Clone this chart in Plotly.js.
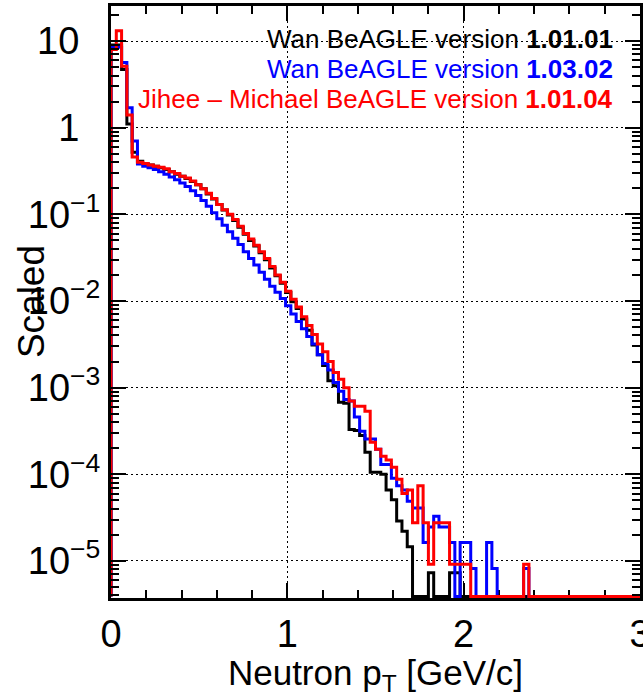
<!DOCTYPE html>
<html>
<head>
<meta charset="utf-8">
<script src="https://cdn.plot.ly/plotly-3.0.1.min.js"></script>
<style>
  html, body { margin: 0; padding: 0; background: #fff; }
  #chart { width: 643px; height: 697px; }
</style>
</head>
<body>
<div id="chart"></div>
<script>
// ---------------- data ----------------
// Histogram binning: 100 bins of width 0.03 GeV/c from 0 to 3
const X_MIN = 0;
const BIN_WIDTH = 0.03;
const N_BINS = 100;

// Wan BeAGLE version 1.01.01 (black)
const wan10101 = [
  9.0, 9.0, 4.7, 1.1, 0.52, 0.41, 0.385, 0.37, 0.36, 0.345,
  0.33, 0.31, 0.29, 0.275, 0.26, 0.24, 0.22, 0.197, 0.172, 0.15,
  0.13, 0.112, 0.098, 0.085, 0.071, 0.059, 0.05, 0.043, 0.036, 0.03,
  0.024, 0.0195, 0.016, 0.0125, 0.0098, 0.0082, 0.0062, 0.0046, 0.0031, 0.0024,
  0.0018, 0.0012, 0.00105, 6.8e-4, 6.6e-4, 3.3e-4, 3.2e-4, 2.8e-4, 1.8e-4, 1.06e-4,
  1.06e-4, 1.0e-4, 6.6e-5, 5.1e-5, 2.9e-5, 2.2e-5, 1.46e-5, 0, 0, 0,
  7.3e-6, 0, 0, 0, 7.3e-6, 7.3e-6, 0, 0, 0, 0,
  0, 0, 0, 0, 0, 0, 0, 0, 0, 0,
  0, 0, 0, 0, 0, 0, 0, 0, 0, 0,
  0, 0, 0, 0, 0, 0, 0, 0, 0, 0
];

// Wan BeAGLE version 1.03.02 (blue)
const wan10302 = [
  8.5, 8.5, 5.65, 1.7, 0.70, 0.38, 0.36, 0.345, 0.33, 0.31,
  0.29, 0.27, 0.25, 0.23, 0.21, 0.187, 0.165, 0.144, 0.124, 0.104,
  0.089, 0.075, 0.063, 0.053, 0.045, 0.037, 0.031, 0.026, 0.0215, 0.0178,
  0.0148, 0.0126, 0.0107, 0.0088, 0.0071, 0.0058, 0.0048, 0.0039, 0.0032, 0.0024,
  0.0019, 0.0016, 0.00115, 9.1e-4, 7.3e-4, 7.0e-4, 4.6e-4, 3.15e-4, 2.55e-4, 2.55e-4,
  1.95e-4, 1.3e-4, 1.3e-4, 9.0e-5, 7.4e-5, 6.6e-5, 4.9e-5, 4.1e-5, 4.1e-5, 1.64e-5,
  2.46e-5, 3.28e-5, 2.46e-5, 2.46e-5, 1.64e-5, 0, 1.64e-5, 1.64e-5, 8.2e-6, 0,
  0, 1.64e-5, 8.2e-6, 0, 0, 0, 0, 0, 8.2e-6, 0,
  0, 0, 0, 0, 0, 0, 0, 0, 0, 0,
  0, 0, 0, 0, 0, 0, 0, 0, 0, 0
];

// Jihee – Michael BeAGLE version 1.01.04 (red)
const jm10104 = [
  8.0, 13.1, 5.1, 1.4, 0.46, 0.40, 0.385, 0.37, 0.36, 0.35,
  0.335, 0.31, 0.295, 0.275, 0.262, 0.243, 0.22, 0.198, 0.175, 0.152,
  0.13, 0.113, 0.1, 0.087, 0.073, 0.06, 0.052, 0.044, 0.037, 0.031,
  0.025, 0.02, 0.0165, 0.013, 0.0105, 0.0085, 0.0066, 0.0052, 0.0041, 0.0032,
  0.0026, 0.002, 0.0015, 0.00125, 0.001, 7.0e-4, 6.1e-4, 6.1e-4, 5.35e-4, 2.35e-4,
  1.95e-4, 1.62e-4, 1.46e-4, 1.21e-4, 8.8e-5, 6.0e-5, 6.6e-5, 2.76e-5, 7.4e-5, 2.76e-5,
  9.2e-6, 2.76e-5, 2.76e-5, 2.76e-5, 9.2e-6, 9.2e-6, 9.2e-6, 9.2e-6, 0, 0,
  0, 0, 0, 0, 0, 0, 0, 0, 9.2e-6, 0,
  0, 0, 0, 0, 0, 0, 0, 0, 0, 0,
  0, 0, 0, 0, 0, 0, 0, 0, 0, 0
];

const seriesNames = [
  'Wan BeAGLE version <b>1.01.01</b>',
  'Wan BeAGLE version <b>1.03.02</b>',
  'Jihee \u2013 Michael BeAGLE version <b>1.01.04</b>'
];
const seriesColors = ['#000000', '#0000ff', '#ff0000'];

// axis ticks and labels
const xTickVals = [0, 1, 2, 3];
const yTickVals = [1e-5, 1e-4, 1e-3, 1e-2, 1e-1, 1, 10];
const yTickText = [
  '10<sup>\u22125</sup>', '10<sup>\u22124</sup>', '10<sup>\u22123</sup>',
  '10<sup>\u22122</sup>', '10<sup>\u22121</sup>',
  '1\u00a0\u00a0', '10\u00a0\u00a0'
];
const xTitle = 'Neutron p<sub>T</sub> [GeV/c]';
const yTitle = 'Scaled';
const Y_LOG_RANGE = [-5.427, 1.404];
// empty bins are drawn on the lower frame, as ROOT does
const EMPTY_BIN_LEVEL = Math.pow(10, Y_LOG_RANGE[0] + 0.017);

// ---------------- build ----------------
const edges = [];
for (let i = 0; i <= N_BINS; i++) edges.push(+(X_MIN + i * BIN_WIDTH).toFixed(4));

function stepTrace(vals, color, name) {
  const xs = [edges[0]], ys = [EMPTY_BIN_LEVEL];
  for (let i = 0; i < vals.length; i++) {
    xs.push(edges[i]);
    ys.push(vals[i] > 0 ? vals[i] : EMPTY_BIN_LEVEL);
  }
  xs.push(edges[vals.length]);
  ys.push(EMPTY_BIN_LEVEL);
  return {
    x: xs, y: ys, type: 'scatter', mode: 'lines', name: name,
    line: { shape: 'hv', color: color, width: 3 },
    hoverinfo: 'skip', showlegend: false
  };
}

const data = [
  stepTrace(wan10101, seriesColors[0], seriesNames[0]),
  stepTrace(wan10302, seriesColors[1], seriesNames[1]),
  stepTrace(jm10104, seriesColors[2], seriesNames[2])
];

const FONT = 'Liberation Sans, Arial, Helvetica, sans-serif';

const annotations = seriesNames.map((t, i) => ({
  text: t,
  xref: 'paper', yref: 'paper',
  x: 0.953, y: [0.944, 0.893, 0.843][i],
  xanchor: 'right', yanchor: 'middle',
  showarrow: false,
  font: { family: FONT, size: 26, color: seriesColors[i] }
}));

// y-axis title, placed like ROOT's (partly over the tick labels)
annotations.push({
  text: yTitle,
  xref: 'paper', yref: 'paper',
  x: -0.151, y: 0.5,
  xanchor: 'center', yanchor: 'middle',
  textangle: -90,
  showarrow: false,
  font: { family: FONT, size: 37, color: '#000' }
});

const layout = {
  width: 643, height: 697,
  margin: { l: 111, r: 3, t: 6, b: 99 },
  paper_bgcolor: '#ffffff', plot_bgcolor: '#ffffff',
  font: { family: FONT, color: '#000' },
  showlegend: false,
  xaxis: {
    range: [0, 3],
    tickmode: 'array', tickvals: xTickVals,
    ticks: 'inside', ticklen: 15, tickwidth: 2, tickcolor: '#000',
    minor: { dtick: 0.2, tick0: 0, ticks: 'inside', ticklen: 8, tickwidth: 2, tickcolor: '#000', showgrid: false },
    mirror: 'allticks', showline: true, linewidth: 3, linecolor: '#000',
    showgrid: true, gridcolor: '#000', gridwidth: 1, griddash: '2px,3px',
    zeroline: false,
    layer: 'below traces',
    ticklabeloverflow: 'allow',
    tickfont: { family: FONT, size: 38, color: '#000' },
    title: { text: xTitle, font: { family: FONT, size: 35, color: '#000' }, standoff: 5 },
    automargin: false
  },
  yaxis: {
    type: 'log',
    range: Y_LOG_RANGE,
    tickmode: 'array', tickvals: yTickVals, ticktext: yTickText,
    ticks: 'inside', ticklen: 15, tickwidth: 2, tickcolor: '#000',
    minor: { dtick: 'D1', ticks: 'inside', ticklen: 8, tickwidth: 2, tickcolor: '#000', showgrid: false },
    mirror: 'allticks', showline: true, linewidth: 3, linecolor: '#000',
    showgrid: true, gridcolor: '#000', gridwidth: 1, griddash: '2px,3px',
    zeroline: false,
    ticklabeloverflow: 'allow',
    tickfont: { family: FONT, size: 38, color: '#000' },
    automargin: false
  },
  annotations: annotations
};

Plotly.newPlot('chart', data, layout, { displayModeBar: false, staticPlot: true });
</script>
</body>
</html>
